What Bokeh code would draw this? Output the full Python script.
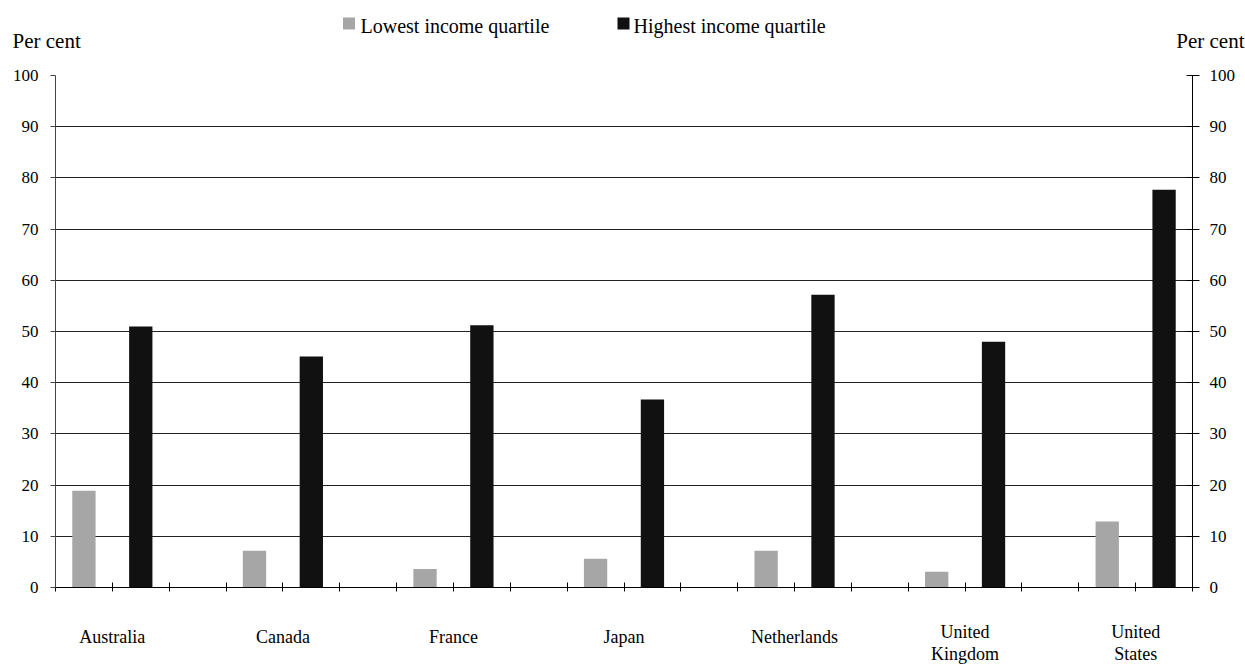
from bokeh.plotting import figure
from bokeh.layouts import column
from bokeh.models import Range1d, LinearAxis, FixedTicker, Label, ColumnDataSource
from bokeh.embed import file_html
from bokeh.resources import INLINE

# ---- data ----
countries = ["Australia", "Canada", "France", "Japan", "Netherlands",
             "United Kingdom", "United States"]
country_lines = [["Australia"], ["Canada"], ["France"], ["Japan"], ["Netherlands"],
                 ["United", "Kingdom"], ["United", "States"]]
lowest = [18.9, 7.2, 3.6, 5.6, 7.2, 3.1, 12.9]
highest = [51.0, 45.1, 51.2, 36.7, 57.2, 48.0, 77.7]
series_names = ["Lowest income quartile", "Highest income quartile"]
y_ticks = list(range(0, 101, 10))
unit_label = "Per cent"

# ---- layout constants (page pixels) ----
FONT = "Liberation Serif"
W = 1245
HEADER_H = 62
MAIN_H = 558
FOOTER_H = 44
LEFT, RIGHT = 55, 53
GRAY = "#a6a6a6"
BLACK = "#111111"

n_slots = len(countries) * 3 - 1
x_range = Range1d(0, n_slots)

# ---------------- header: unit labels + legend ----------------
hdr = figure(width=W, height=HEADER_H, output_backend="svg", toolbar_location=None,
             x_range=Range1d(0, W), y_range=Range1d(HEADER_H, 0),
             x_axis_location=None, y_axis_location=None,
             min_border=0, min_border_left=0, min_border_right=0,
             min_border_top=0, min_border_bottom=0)
hdr.frame_align = False
hdr.outline_line_color = None
hdr.xgrid.visible = False
hdr.ygrid.visible = False

hdr.add_layout(Label(x=12, y=40, text=unit_label, text_font=FONT,
                     text_font_size="21px", text_align="left",
                     text_baseline="middle", text_color="#000000"))
hdr.add_layout(Label(x=1244, y=40, text=unit_label, text_font=FONT,
                     text_font_size="21px", text_align="right",
                     text_baseline="middle", text_color="#000000"))

legend_swatch_x = [348.5, 623]
legend_text_x = [360, 633]
swatch_colors = [GRAY, BLACK]
hdr.rect(x=legend_swatch_x, y=[23, 23], width=12, height=12,
         fill_color=swatch_colors, line_color=None)
for name, tx in zip(series_names, legend_text_x):
    hdr.add_layout(Label(x=tx, y=25, text=name, text_font=FONT,
                         text_font_size="20px", text_align="left",
                         text_baseline="middle", text_color="#000000"))

# ---------------- main chart ----------------
p = figure(width=W, height=MAIN_H, output_backend="svg", toolbar_location=None,
           x_range=x_range, y_range=Range1d(0, 100),
           min_border_left=LEFT, min_border_right=RIGHT,
           min_border_top=13, min_border_bottom=33)
p.outline_line_color = None

x_low = [3 * i + 0.5 for i in range(len(countries))]
x_high = [3 * i + 1.5 for i in range(len(countries))]
src_low = ColumnDataSource(dict(x=x_low, top=lowest))
src_high = ColumnDataSource(dict(x=x_high, top=highest))

p.vbar(x="x", top="top", bottom=0, width=0.41, source=src_low,
       fill_color=GRAY, line_color=None)
p.vbar(x="x", top="top", bottom=0, width=0.41, source=src_high,
       fill_color=BLACK, line_color=None)

xa = p.xaxis[0]
xa.ticker = FixedTicker(ticks=list(range(0, n_slots + 1)))
xa.major_label_overrides = {i: "" for i in range(0, n_slots + 1)}
xa.major_label_standoff = 0
xa.major_tick_in = 5
xa.major_tick_out = 4
xa.minor_tick_line_color = None
xa.axis_line_color = "#000000"
xa.major_tick_line_color = "#000000"
p.xgrid.visible = False

ya = p.yaxis[0]
ya.ticker = FixedTicker(ticks=y_ticks)
ya.major_tick_in = 0
ya.major_tick_out = 5
ya.minor_tick_line_color = None
ya.major_label_standoff = 12
ya.axis_line_color = "#444444"
ya.major_tick_line_color = "#444444"
ya.major_label_text_font = FONT
ya.major_label_text_font_size = "17px"
ya.major_label_text_color = "#000000"

p.ygrid.ticker = FixedTicker(ticks=y_ticks)
p.ygrid.grid_line_color = "#222222"
p.ygrid.grid_line_width = 1

ra = LinearAxis(ticker=FixedTicker(ticks=y_ticks))
ra.major_tick_in = 6
ra.major_tick_out = 7
ra.minor_tick_line_color = None
ra.major_label_standoff = 10
ra.axis_line_color = "#000000"
ra.major_tick_line_color = "#000000"
ra.major_label_text_font = FONT
ra.major_label_text_font_size = "17px"
ra.major_label_text_color = "#000000"
p.add_layout(ra, "right")

# ---------------- footer: country names ----------------
FOOT_TOP = HEADER_H + MAIN_H
ftr = figure(width=W, height=FOOTER_H, output_backend="svg", toolbar_location=None,
             x_range=x_range, y_range=Range1d(FOOT_TOP + FOOTER_H, FOOT_TOP),
             x_axis_location=None, y_axis_location=None,
             min_border_left=LEFT, min_border_right=RIGHT,
             min_border_top=0, min_border_bottom=0)
ftr.outline_line_color = None
ftr.xgrid.visible = False
ftr.ygrid.visible = False

for i, lines in enumerate(country_lines):
    cx = 3 * i + 1
    mids = [636] if len(lines) == 1 else [631, 653]
    for line, m in zip(lines, mids):
        ftr.add_layout(Label(x=cx, y=m, text=line, text_font=FONT,
                             text_font_size="18px", text_align="center",
                             text_baseline="middle", text_color="#000000"))

layout = column(hdr, p, ftr, spacing=0)
open("out.html", "w").write(file_html(layout, INLINE))
